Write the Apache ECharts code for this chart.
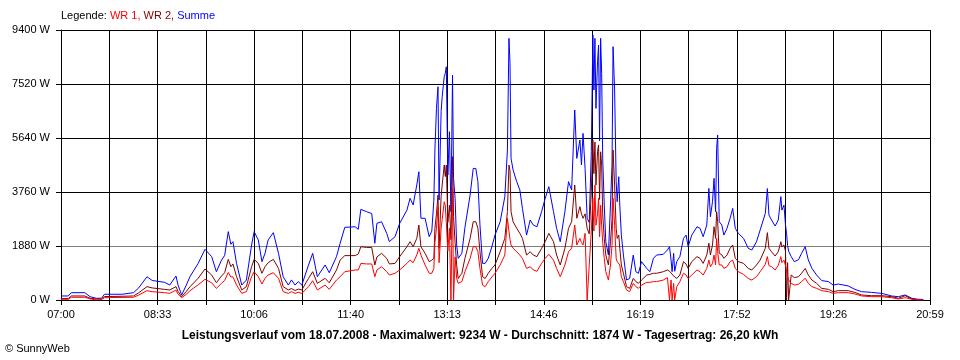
<!DOCTYPE html>
<html>
<head>
<meta charset="utf-8">
<script src="https://cdn.jsdelivr.net/npm/echarts@6/dist/echarts.min.js"></script>
<style>
html,body{margin:0;padding:0;background:#fff;}
#chart{width:960px;height:360px;}
</style>
</head>
<body>
<div id="chart"></div>
<script>
// minutes after 07:00
var times = [0,7,10,23,28,34,39,42,59,70,75,83,88,100,105,111,113,116.5,121,124.5,132.5,139,145.5,150,155,158,161.5,164,
166,169.5,174.5,179,184,186.5,190.5,194,197,200,205,210,214.5,219.5,222.5,226,229,232.5,239,243,247.5,255,259,266,269.5,274,284,287,289.5,295,300,303,305,309.5,314.5,317,322.5,327,334,
337,340,343.5,345.5,347.5,351.5,355.5,358,360,361,362.5,364,365,367,368,370,371,372,373.5,375,376.5,378,379,380.5,382,383.5,387,390,395,398,400.5,402.5,404.5,407,409.5,412.5,416,419,424,428.5,431,432.5,433.5,434.5,436.5,440,443,445.5,449.5,453,456,459.5,464,467.5,471,475.5,478.5,482,486.5,490,493,496,498,501,
502.5,504,506,508,510,512,513.5,514.5,515.5,516.5,518,519,520,521,522,523,524.5,526,528.5,530.5,532,533,534.5,536,537,538.5,539.5,541,543,546,549,552.5,555,557.5,560.5,565.5,568.5,572,575,581.5,585.5,587.5,589,590,591.5,592.5,594.5,597.5,601,603.5,605.5,609,614,617,620,623.5,625.5,627,629,630.5,632,633,634,635.5,638,640,643,646,648.5,651,654,659,663.5,667,671.5,
675,680,682,683.5,686,689.5,692.5,695,696,698,699.5,700.5,701.5,702.5,705,708,712,715,718.5,721.5,725,729.5,734.5,741,745.5,750.5,760,766.5,773,782.5,792.5,802,808.5,815,821.5,827.5,832.5];

var summe = [140,140,255,255,115,60,60,200,200,255,420,810,680,615,520,835,520,175,520,810,1280,1765,1510,985,1390,1550,2380,1940,
2030,1275,520,695,1915,2380,2090,1335,1625,2090,2345,1625,810,520,700,520,640,520,1220,1625,810,1220,950,1510,1975,2530,2550,2460,3155,3075,3010,1975,2670,2725,2320,2030,2205,2670,3130,
3540,3310,4005,4465,2845,2845,2205,2400,3480,5220,6670,7425,3480,6555,7075,7775,7890,8120,4350,5860,3075,7830,4235,3540,1915,1450,1625,2530,3655,4580,4580,4120,2610,1275,1275,1450,1855,2260,2725,3595,5220,9110,8240,4930,4525,4120,3830,3190,2260,2785,2610,2550,3075,3540,3945,3075,2495,2030,3075,4120,3830,6615,4930,5570,
4700,5800,4580,2845,2700,5160,9225,7310,9110,6670,8295,8875,5540,9110,7890,4930,3305,2030,1565,3305,4700,8820,7310,4120,3420,4290,3305,2260,1565,695,750,1565,985,930,1335,1100,985,1450,1565,1590,1740,1855,1400,985,1625,1000,1335,1510,2145,2260,1855,2260,2550,2495,2205,2610,3885,2900,3420,4235,3075,5280,5745,2725,2610,2260,2495,2845,3190,2495,2320,2145,1800,1740,2030,
2435,3015,3880,2960,2785,2575,2785,3600,3130,3305,2610,2320,1900,1700,1510,1335,1400,1625,1855,1395,1100,870,675,640,520,555,490,370,290,265,230,140,115,175,60,25,20];

var wr2 = [50,50,140,140,60,35,35,120,130,140,250,465,420,370,350,465,300,115,300,460,760,1080,870,600,835,950,1415,1160,
1255,810,350,465,1160,1415,1275,930,1160,1300,1415,1100,465,350,400,330,380,350,755,985,580,755,600,1045,1390,1545,1545,1600,1855,1830,1830,1220,1500,1625,1450,1255,1275,1510,1855,
2030,1855,2145,2610,1855,1625,1335,1390,1450,2500,3000,3650,1800,3600,4000,4700,4300,4700,2700,3300,2100,4990,2900,2000,1220,750,930,1450,2145,2725,2725,2500,1680,810,750,930,1100,1220,1680,2145,3075,4700,4500,3075,2725,2495,2320,2145,1565,1680,1565,1510,1800,2030,2320,2030,1565,1220,1800,2495,2725,4005,2845,3250,
3000,2845,3000,2495,2300,3770,5570,4400,5500,4000,5160,5400,3500,5160,4700,3000,2145,1565,1220,2030,2800,5220,4000,2495,2145,2260,1800,1220,930,465,405,750,640,580,695,870,890,930,930,985,1045,1000,950,900,870,800,750,870,1335,1250,1100,1335,1510,1450,1275,1565,1975,1565,1915,2550,2145,3075,2725,1630,1570,1450,1565,1800,1915,1450,1335,1275,1100,1045,1220,
1390,1800,2345,1800,1680,1530,1680,2030,1850,1915,1700,0,1300,0,870,780,810,930,1100,870,695,580,405,370,290,325,325,265,175,150,150,115,60,150,35,0,0];

var wr1 = [25,25,95,95,40,0,10,80,90,95,170,325,290,255,230,345,200,80,200,320,530,720,600,405,580,680,960,800,
810,520,230,290,810,985,810,555,755,870,950,755,290,230,290,230,270,230,465,670,350,520,370,695,810,985,1045,1045,1275,1255,1255,810,1045,1160,985,870,930,1045,1275,
1390,1300,1565,1800,1565,1220,930,930,1100,2000,2500,3250,1300,2500,2800,3420,3300,2700,1700,2500,0,3885,0,1500,750,580,640,985,1450,1855,1855,1680,1100,520,465,640,800,930,1220,1565,2845,2400,2100,1915,1800,1680,1565,1450,1100,1160,1045,1000,1275,1450,1590,1390,1100,810,1220,1680,1800,2610,1915,2145,
2000,1915,2320,0,1200,2400,3540,2400,4005,2600,3000,3540,2200,3300,2600,2000,1450,985,695,1220,1900,3540,2600,1450,1335,1335,1220,810,640,350,290,580,465,405,520,615,615,640,640,695,780,0,700,0,580,0,465,640,930,870,750,870,1045,985,870,1100,1390,1160,1275,1565,1220,2145,1680,1220,1220,1100,1160,1335,1390,1100,985,890,750,695,810,
985,1240,1510,1200,1160,1045,1200,1510,1300,1390,1200,1000,800,700,580,520,550,640,755,580,465,405,325,290,230,255,255,210,140,115,115,80,35,80,25,0,0];

var xTickLabels = ['07:00','08:33','10:06','11:40','13:13','14:46','16:19','17:52','19:26','20:59'];
var yMax = 9400, yStep = 1880;
var xMax = 839, xStep = 839 / 18;

function pairs(vals){ return times.map(function(t,i){ return [t, vals[i]]; }); }

var chart = echarts.init(document.getElementById('chart'), null, {renderer:'canvas'});
var font = '"Liberation Sans", Arial, sans-serif';
chart.setOption({
  animation: false,
  backgroundColor: '#ffffff',
  textStyle: { fontFamily: font },
  title: [
    { left: 61, top: 10, padding: 0,
      text: '{a|Legende: }{b|WR 1, }{c|WR 2, }{d|Summe}',
      textStyle: { fontWeight: 'normal', fontSize: 11, rich: {
        a: { color: '#000', fontSize: 11, fontWeight: 'normal', fontFamily: font },
        b: { color: '#ff0000', fontSize: 11, fontWeight: 'normal', fontFamily: font },
        c: { color: '#800000', fontSize: 11, fontWeight: 'normal', fontFamily: font },
        d: { color: '#0000ff', fontSize: 11, fontWeight: 'normal', fontFamily: font }
      } } },
    { left: 'center', top: 330, padding: 0,
      text: 'Leistungsverlauf vom 18.07.2008 - Maximalwert: 9234 W - Durchschnitt: 1874 W - Tagesertrag: 26,20 kWh',
      textStyle: { color: '#000', fontSize: 12, fontWeight: 'bold', fontFamily: font } },
    { left: 5, top: 343, padding: 0, text: '© SunnyWeb',
      textStyle: { color: '#000', fontSize: 11, fontWeight: 'normal', fontFamily: font } }
  ],
  grid: { left: 61, right: 30, top: 30, bottom: 60, containLabel: false },
  xAxis: {
    type: 'value', min: 0, max: xMax, interval: xStep,
    axisLine: { show: true, lineStyle: { color: '#000', width: 1 } },
    axisTick: { show: true, length: 5, lineStyle: { color: '#000' } },
    axisLabel: { color: '#000', fontSize: 11, fontFamily: font, margin: 9, showMinLabel: true, showMaxLabel: true,
      formatter: function(v){ var i = Math.round(v / xStep); return (i % 2 === 0) ? xTickLabels[i/2] : ''; } },
    splitLine: { show: true, lineStyle: { color: '#000', width: 1 } }
  },
  yAxis: {
    type: 'value', min: 0, max: yMax, interval: yStep,
    axisLine: { show: true, lineStyle: { color: '#000', width: 1 } },
    axisTick: { show: true, length: 5, lineStyle: { color: '#000' } },
    axisLabel: { color: '#000', fontSize: 11, fontFamily: font, margin: 11, formatter: function(v){ return v + ' W'; } },
    splitLine: { show: true, lineStyle: { color: ['#000','#808080','#000','#000','#000','#000'], width: 1 } }
  },
  series: [
    { name: 'Summe', type: 'line', data: pairs(summe), showSymbol: false, symbol: 'none',
      lineStyle: { color: '#0000ff', width: 1 }, itemStyle: { color: '#0000ff' } },
    { name: 'WR 2', type: 'line', data: pairs(wr2), showSymbol: false, symbol: 'none',
      lineStyle: { color: '#800000', width: 1 }, itemStyle: { color: '#800000' } },
    { name: 'WR 1', type: 'line', data: pairs(wr1), showSymbol: false, symbol: 'none',
      lineStyle: { color: '#ff0000', width: 1 }, itemStyle: { color: '#ff0000' } }
  ]
});
</script>
</body>
</html>
